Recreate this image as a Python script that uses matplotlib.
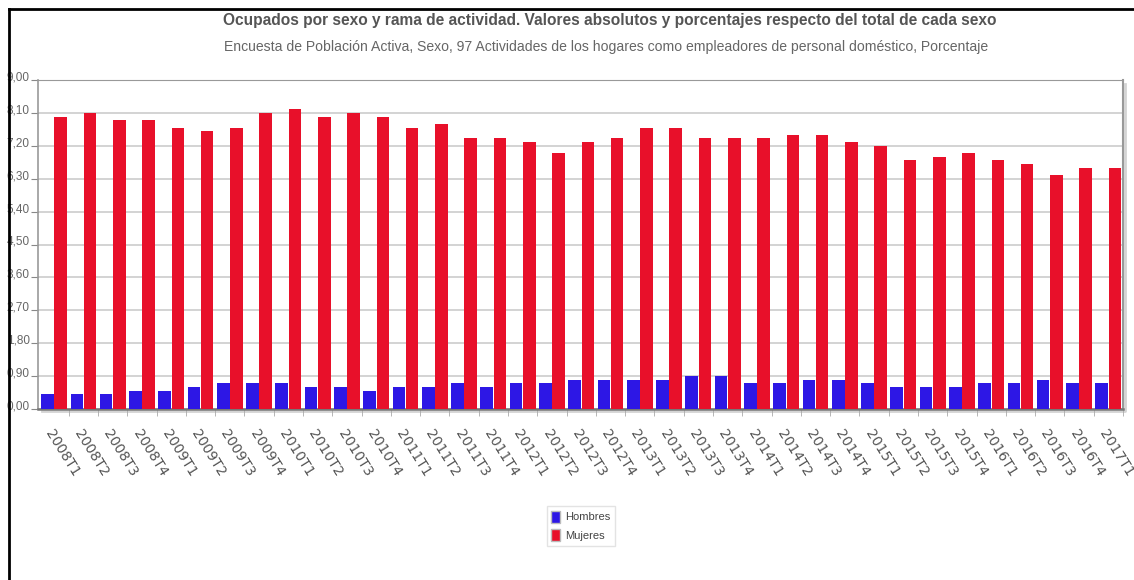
import numpy as np
import matplotlib
matplotlib.use("Agg")
import matplotlib.pyplot as plt
from matplotlib.patches import Patch
from matplotlib.ticker import FuncFormatter, MultipleLocator
import matplotlib.transforms as mtransforms

# Datos
periodos = ['2008T1', '2008T2', '2008T3', '2008T4',
            '2009T1', '2009T2', '2009T3', '2009T4',
            '2010T1', '2010T2', '2010T3', '2010T4',
            '2011T1', '2011T2', '2011T3', '2011T4',
            '2012T1', '2012T2', '2012T3', '2012T4',
            '2013T1', '2013T2', '2013T3', '2013T4',
            '2014T1', '2014T2', '2014T3', '2014T4',
            '2015T1', '2015T2', '2015T3', '2015T4',
            '2016T1', '2016T2', '2016T3', '2016T4',
            '2017T1']
hombres = [0.4, 0.4, 0.4, 0.5,
           0.5, 0.6, 0.7, 0.7,
           0.7, 0.6, 0.6, 0.5,
           0.6, 0.6, 0.7, 0.6,
           0.7, 0.7, 0.8, 0.8,
           0.8, 0.8, 0.9, 0.9,
           0.7, 0.7, 0.8, 0.8,
           0.7, 0.6, 0.6, 0.6,
           0.7, 0.7, 0.8, 0.7,
           0.7]
mujeres = [8.0, 8.1, 7.9, 7.9,
           7.7, 7.6, 7.7, 8.1,
           8.2, 8.0, 8.1, 8.0,
           7.7, 7.8, 7.4, 7.4,
           7.3, 7.0, 7.3, 7.4,
           7.7, 7.7, 7.4, 7.4,
           7.4, 7.5, 7.5, 7.3,
           7.2, 6.8, 6.9, 7.0,
           6.8, 6.7, 6.4, 6.6,
           6.6]

titulo = 'Ocupados por sexo y rama de actividad. Valores absolutos y porcentajes respecto del total de cada sexo'
subtitulo = 'Encuesta de Población Activa, Sexo, 97 Actividades de los hogares como empleadores de personal doméstico, Porcentaje'

narrow = ['Liberation Sans Narrow', 'Liberation Sans', 'DejaVu Sans']
azul = '#2d17e5'
rojo = '#e8102a'
gris = '#555555'

fig = plt.figure(figsize=(11.34, 5.8), dpi=100)
fig.patch.set_facecolor('white')

# marco negro de la captura
fig.add_artist(plt.Line2D([9/1134, 9/1134], [0, 1 - 9/580], color='black', lw=2))
fig.add_artist(plt.Line2D([9/1134, 1], [1 - 9/580, 1 - 9/580], color='black', lw=2))

ax = fig.add_axes([38/1134, 1 - 409/580, 1085/1134, 329/580])

x = np.arange(len(periodos))
w = 0.43
ax.bar(x - 0.225, hombres, width=w, color=azul, zorder=3)
ax.bar(x + 0.225, mujeres, width=w, color=rojo, zorder=3)

ax.set_xlim(-0.55, len(periodos) - 0.5)
ax.set_ylim(0, 9)
ax.yaxis.set_major_locator(MultipleLocator(0.9))
ax.yaxis.set_major_formatter(FuncFormatter(lambda v, p: f'{v:.2f}'.replace('.', ',')))
ax.grid(axis='y', color='#cccccc', lw=1.2, zorder=0)
ax.tick_params(axis='y', length=5, color='#888888', labelcolor='#666666', pad=1)
up = mtransforms.ScaledTranslation(0, 4/100, fig.dpi_scale_trans)
for t in ax.get_yticklabels():
    t.set_family(narrow)
    t.set_fontsize(8.5)
    t.set_transform(t.get_transform() + up)

ax.set_xticks(x)
ax.set_xticklabels(periodos, rotation=-58, ha='left', va='top',
                   rotation_mode='anchor', fontsize=10, color=gris,
                   family='DejaVu Sans')
ax.tick_params(axis='x', length=0, pad=13)
ax.set_xticks(np.arange(len(periodos)) + 0.5, minor=True)
ax.tick_params(axis='x', which='minor', length=5, color='#aaaaaa')

for s in ['top', 'right', 'left']:
    ax.spines[s].set_color('#999999')
ax.spines['left'].set_linewidth(1.2)
ax.spines['right'].set_linewidth(1.5)
ax.spines['bottom'].set_color('#777777')
ax.spines['bottom'].set_linewidth(1.8)

# sombra del marco
sh = mtransforms.offset_copy(ax.transAxes, fig=fig, x=2, y=-2, units='dots')
ax.plot([0.002, 1, 1], [0, 0, 0.995], transform=sh, color='#d4d4d4', lw=2,
        clip_on=False, zorder=1)

fig.text(610/1134, 1 - 20/580, titulo, ha='center', va='center', fontsize=11.2,
         fontweight='bold', color=gris, family=narrow)
fig.text(606/1134, 1 - 47/580, subtitulo, ha='center', va='center', fontsize=10.1,
         color='#666666', family=narrow)

leg = fig.legend(handles=[Patch(facecolor=azul, edgecolor='#bbbbbb', label='Hombres'),
                          Patch(facecolor=rojo, edgecolor='#bbbbbb', label='Mujeres')],
                 loc='center', bbox_to_anchor=(581/1134, 1 - 526/580),
                 prop={'family': narrow, 'size': 8}, frameon=True, fancybox=False,
                 handlelength=0.8, handleheight=1.3, handletextpad=0.5,
                 labelspacing=0.6, borderpad=0.4, edgecolor='#dddddd')
for t in leg.get_texts():
    t.set_color('#444444')

fig.savefig('out.png', dpi=100, facecolor='white')
